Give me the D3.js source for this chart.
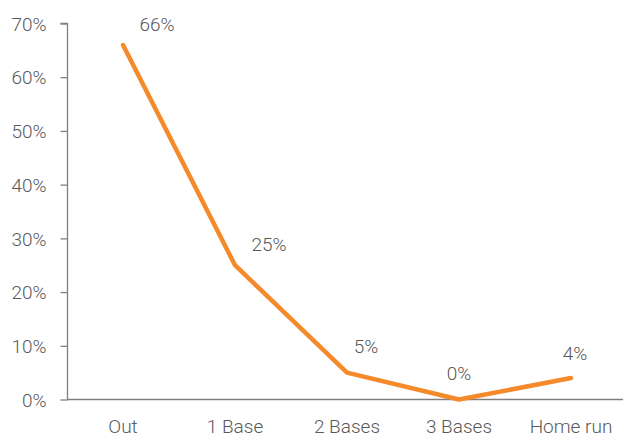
<!DOCTYPE html>
<html><head><meta charset="utf-8">
<script src="https://cdn.jsdelivr.net/npm/d3@7"></script>
<style>body{margin:0;background:#fff;}svg{display:block;}text{font-family:Roboto,"Liberation Sans",sans-serif;font-weight:300;fill:#595959;}</style>
</head><body>
<svg id="c" width="623" height="438"></svg>
<script>
const categories = ["Out","1 Base","2 Bases","3 Bases","Home run"];
const values = [66,25,5,0,4];
const valueLabels = ["66%","25%","5%","0%","4%"];
const yTicks = [0,10,20,30,40,50,60,70];
const labelDx = [34,34,19,0,4];
const labelDy = [-14,-14,-20,-20,-18];

const svg = d3.select("#c");
const x = d3.scaleBand().domain(categories).range([67,627]);
const y = d3.scaleLinear().domain([0,70]).range([399.5,23.5]);
const cx = d => x(d)+x.bandwidth()/2;

// y axis
const ya = svg.append("g").attr("transform","translate(67.5,0)")
  .call(d3.axisLeft(y).tickValues(yTicks).tickSize(7).tickPadding(14).tickFormat(d=>d+"%"));
ya.select(".domain").attr("stroke","#7f7f7f").attr("stroke-width",1.3).attr("d","M-7,"+y(70)+"H0V"+y(0));
ya.selectAll(".tick line").attr("stroke","#7f7f7f").attr("stroke-width",1.3);
ya.selectAll(".tick text").style("font-size","19px").attr("fill","#595959").attr("dy","0.35em");

// x axis
svg.append("line").attr("x1",67).attr("x2",623).attr("y1",y(0)).attr("y2",y(0))
  .attr("stroke","#7f7f7f").attr("stroke-width",1.5);
svg.append("g").selectAll("text").data(categories).join("text")
  .attr("x",d=>cx(d)).attr("y",433).attr("text-anchor","middle")
  .style("font-size","19px").text(d=>d);

// line
const pts = categories.map((c,i)=>[cx(c),y(values[i])]);
svg.append("path").attr("d",d3.line()(pts)).attr("fill","none")
  .attr("stroke","#F58A2A").attr("stroke-width",4.5).attr("stroke-linecap","round").attr("stroke-linejoin","round");

svg.append("g").selectAll("text").data(categories).join("text")
  .attr("x",(d,i)=>cx(d)+labelDx[i]).attr("y",(d,i)=>y(values[i])+labelDy[i])
  .attr("text-anchor","middle").style("font-size","19px").text((d,i)=>valueLabels[i]);
</script>
</body></html>
